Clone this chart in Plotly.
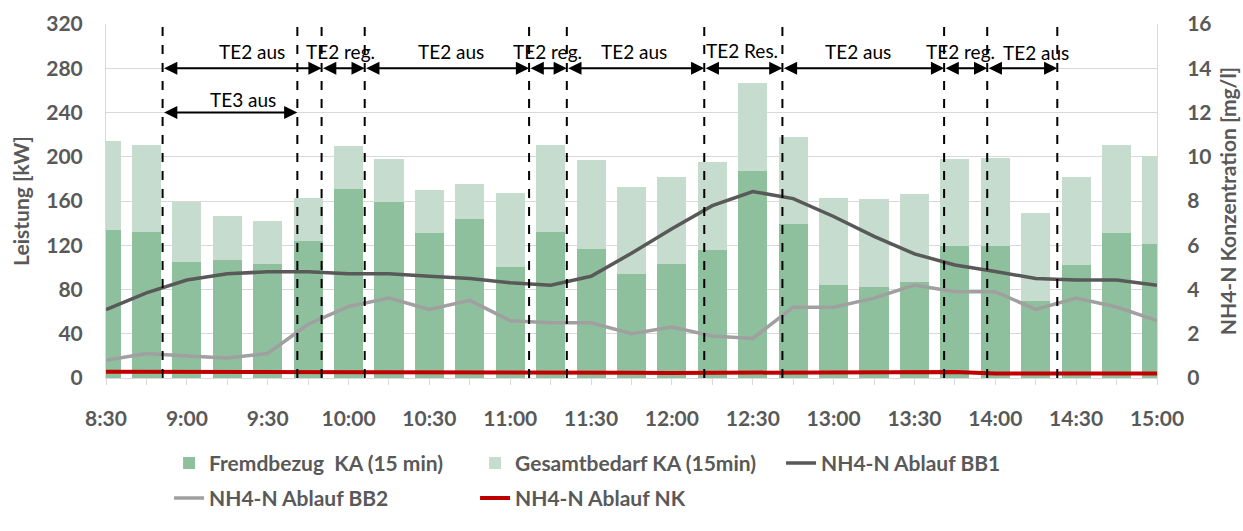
import pandas as pd
import plotly.graph_objects as go

# ---------------- data ----------------
times = ["8:30", "8:45", "9:00", "9:15", "9:30", "9:45", "10:00", "10:15", "10:30",
         "10:45", "11:00", "11:15", "11:30", "11:45", "12:00", "12:15", "12:30",
         "12:45", "13:00", "13:15", "13:30", "13:45", "14:00", "14:15", "14:30",
         "14:45", "15:00"]
fremdbezug = [134, 132, 105, 107, 103, 124, 171, 159, 131, 144, 100, 132, 117, 94,
              103, 116, 187, 139, 84, 82, 87, 119, 119, 70, 102, 131, 121]
gesamtbedarf = [214, 211, 159, 146, 142, 163, 210, 198, 170, 175, 167, 211, 197, 173,
                182, 195, 267, 218, 163, 162, 166, 198, 199, 149, 182, 211, 201]
bb1 = [3.09, 3.85, 4.43, 4.71, 4.8, 4.8, 4.71, 4.71, 4.6, 4.5, 4.3, 4.19, 4.6, 5.64,
       6.75, 7.79, 8.43, 8.11, 7.3, 6.4, 5.61, 5.11, 4.81, 4.5, 4.43, 4.43, 4.19]
bb2 = [0.8, 1.11, 1.0, 0.9, 1.11, 2.43, 3.23, 3.61, 3.1, 3.51, 2.59, 2.5, 2.5, 2.0,
       2.3, 1.9, 1.79, 3.2, 3.2, 3.61, 4.2, 3.9, 3.9, 3.1, 3.61, 3.21, 2.59]
nk = [0.28, 0.28, 0.27, 0.27, 0.26, 0.26, 0.26, 0.25, 0.25, 0.25, 0.24, 0.24, 0.24,
      0.24, 0.23, 0.23, 0.23, 0.23, 0.23, 0.24, 0.25, 0.27, 0.2, 0.2, 0.2, 0.2, 0.2]

# phase boundaries (dashed lines)
boundaries = ["8:51", "9:41", "9:50", "10:06", "11:07", "11:21", "12:12", "12:41",
              "13:41", "13:57", "14:23"]
# arrows: (start, end, level in kW)
arrows = [("8:51", "9:50", 280), ("9:50", "10:06", 280), ("10:06", "11:07", 280),
          ("11:07", "11:21", 280), ("11:21", "12:12", 280), ("12:12", "12:41", 280),
          ("12:41", "13:41", 280), ("13:41", "13:57", 280), ("13:57", "14:23", 280),
          ("8:51", "9:41", 240)]
# phase labels: (text, time, level in kW)
labels = [("TE2 aus", "9:24", 295), ("TE2 reg.", "9:57", 295), ("TE2 aus", "10:38", 295),
          ("TE2 reg.", "11:14", 295), ("TE2 aus", "11:46", 295), ("TE2 Res.", "12:26", 296),
          ("TE2 aus", "13:09", 295), ("TE2 reg.", "13:47", 295), ("TE2 aus", "14:15", 294),
          ("TE3 aus", "9:21", 252)]

x_ticks_start, x_ticks_end = "8:30", "15:00"


def ts(t):
    return pd.Timestamp("2021-01-01 " + t)


x = [ts(t) for t in times]

GRAY = "#595959"
FONT = "Lato"
DARK_GREEN = "#8FC09E"
LIGHT_GREEN = "#C5DCCE"

fig = go.Figure()
bar_w = 15 * 60 * 1000 * 0.72
fig.add_trace(go.Bar(x=x, y=gesamtbedarf, name="Gesamtbedarf KA (15min)",
                     marker=dict(color=LIGHT_GREEN, line=dict(width=0)), width=bar_w,
                     legend="legend", legendrank=2))
fig.add_trace(go.Bar(x=x, y=fremdbezug, name="Fremdbezug  KA (15 min)",
                     marker=dict(color=DARK_GREEN, line=dict(width=0)), width=bar_w,
                     legend="legend", legendrank=1))
fig.add_trace(go.Scatter(x=x, y=bb1, name="NH4-N Ablauf BB1", mode="lines",
                         line=dict(color="#595959", width=3.5), yaxis="y2",
                         legend="legend", legendrank=3))
fig.add_trace(go.Scatter(x=x, y=bb2, name="NH4-N Ablauf BB2", mode="lines",
                         line=dict(color="#A0A0A0", width=3.5), yaxis="y2",
                         legend="legend2", legendrank=1))
fig.add_trace(go.Scatter(x=x, y=nk, name="NH4-N Ablauf NK", mode="lines",
                         line=dict(color="#C00000", width=4), yaxis="y2",
                         legend="legend2", legendrank=2))

shapes = []
for b in boundaries:
    shapes.append(dict(type="line", xref="x", yref="paper", x0=ts(b), x1=ts(b), y0=0, y1=1,
                       line=dict(color="black", width=2, dash="dash"), layer="above"))

annotations = []
for s, e, lvl in arrows:
    annotations.append(dict(x=ts(e), y=lvl, ax=ts(s), ay=lvl, xref="x", yref="y",
                            axref="x", ayref="y", text="", showarrow=True,
                            arrowhead=2, startarrowhead=2, arrowside="end+start",
                            arrowsize=1.2, startarrowsize=1.2, arrowwidth=2.2,
                            arrowcolor="black", standoff=0, startstandoff=0))
for txt, t, lvl in labels:
    annotations.append(dict(x=ts(t), y=lvl, xref="x", yref="y", text=txt, showarrow=False,
                            font=dict(family=FONT, size=19, color="black")))

legend_font = dict(family=FONT, size=21, color=GRAY, weight="bold")
fig.update_layout(
    width=1243, height=531,
    margin=dict(l=106, r=86, t=24, b=134),
    paper_bgcolor="white", plot_bgcolor="white",
    barmode="overlay", bargap=0,
    font=dict(family=FONT, color=GRAY),
    shapes=shapes, annotations=annotations,
    legend=dict(orientation="h", x=0.06, y=-0.241, xanchor="left", yanchor="middle",
                entrywidth=261, entrywidthmode="pixels", traceorder="normal",
                font=legend_font, bgcolor="rgba(0,0,0,0)"),
    legend2=dict(orientation="h", x=0.06, y=-0.340, xanchor="left", yanchor="middle",
                 entrywidth=261, entrywidthmode="pixels", traceorder="normal",
                 font=legend_font, bgcolor="rgba(0,0,0,0)"),
    xaxis=dict(type="date", range=[ts(x_ticks_start), ts(x_ticks_end)],
               tick0=ts(x_ticks_start), dtick=30 * 60 * 1000, tickformat="%-H:%M",
               ticks="outside", ticklen=6, tickcolor="#D9D9D9", ticklabelstandoff=16,
               showline=True, linecolor="#D9D9D9", linewidth=1, showgrid=False,
               minor=dict(dtick=15 * 60 * 1000, ticks="outside", ticklen=6,
                          tickcolor="#D9D9D9", showgrid=False),
               tickfont=dict(family=FONT, size=21, color=GRAY, weight="bold"),
               automargin=False),
    yaxis=dict(range=[0, 320], dtick=40, showgrid=True, gridcolor="#D9D9D9", gridwidth=1,
               showline=True, linecolor="#D9D9D9", zeroline=False, ticks="",
               ticklabelstandoff=18,
               tickfont=dict(family=FONT, size=21, color=GRAY, weight="bold"),
               title=dict(text="Leistung [kW]", standoff=10,
                          font=dict(family=FONT, size=21, color=GRAY, weight="bold")),
               automargin=False),
    yaxis2=dict(range=[0, 16], dtick=2, overlaying="y", side="right", showgrid=False,
                showline=True, linecolor="#D9D9D9", zeroline=False, ticks="",
                ticklabelstandoff=25,
                tickfont=dict(family=FONT, size=21, color=GRAY, weight="bold"),
                title=dict(text="NH4-N Konzentration [mg/l]", standoff=10,
                           font=dict(family=FONT, size=21, color=GRAY, weight="bold")),
                automargin=False),
)

fig.write_html("out.html", config={"displayModeBar": False},
               post_script="document.body.style.margin='0';document.body.style.overflow='hidden';")
